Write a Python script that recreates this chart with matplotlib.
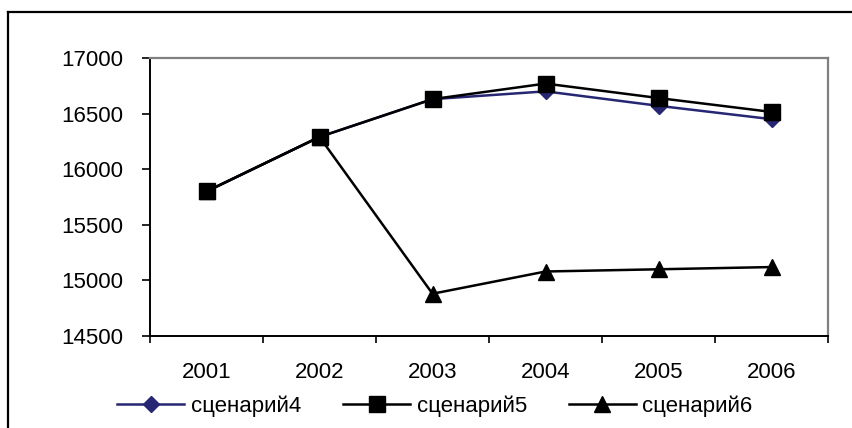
import matplotlib
matplotlib.use("Agg")
import matplotlib.pyplot as plt
from matplotlib.lines import Line2D

years = ["2001", "2002", "2003", "2004", "2005", "2006"]
scenario4 = [15800, 16290, 16630, 16700, 16570, 16450]
scenario5 = [15800, 16290, 16630, 16770, 16640, 16515]
scenario6 = [15800, 16290, 14880, 15080, 15100, 15120]
series_names = ["сценарий4", "сценарий5", "сценарий6"]
yticks = [14500, 15000, 15500, 16000, 16500, 17000]

plt.rcParams['font.family'] = ['Liberation Sans', 'DejaVu Sans']

W, H = 852, 428
fig = plt.figure(figsize=(W / 100, H / 100), dpi=100)
fig.patch.set_facecolor("white")

# outer chart frame (extends past the right/bottom edges)
fig.add_artist(Line2D([8 / W, 8 / W], [0, 1 - 12 / H], transform=fig.transFigure,
                      color="black", lw=1.6))
fig.add_artist(Line2D([8 / W, 1], [1 - 12 / H, 1 - 12 / H], transform=fig.transFigure,
                      color="black", lw=1.6))

left, right, top, bottom = 150, 828, 58, 336
ax = fig.add_axes([left / W, 1 - bottom / H, (right - left) / W, (bottom - top) / H])

x = list(range(len(years)))
navy = "#262673"
ax.plot(x, scenario4, color=navy, lw=1.8, marker="D", ms=8.5, mfc=navy, mec=navy,
        label=series_names[0], zorder=3)
ax.plot(x, scenario6, color="black", lw=1.8, marker="^", ms=11, mfc="black", mec="black",
        label=series_names[2], zorder=4)
ax.plot(x, scenario5, color="black", lw=1.8, marker="s", ms=11, mfc="black", mec="black",
        label=series_names[1], zorder=5)

ax.set_xlim(-0.5, len(years) - 0.5)
ax.set_ylim(14500, 17000)
ax.set_yticks(yticks)
ax.set_yticklabels([str(v) for v in yticks])

ax.set_xticks([i - 0.5 for i in range(len(years) + 1)])
ax.set_xticklabels([""] * (len(years) + 1))
ax.set_xticks(x, minor=True)
ax.set_xticklabels(years, minor=True)

ax.tick_params(axis="y", direction="out", length=6, width=1.2, color="black",
               labelsize=16, pad=13.5)
ax.tick_params(axis="x", which="major", direction="out", length=5, width=1.2, color="black")
ax.tick_params(axis="x", which="minor", length=0, labelsize=16, pad=18.5)

for s in ["left", "bottom"]:
    ax.spines[s].set_color("black")
    ax.spines[s].set_linewidth(1.4)
for s in ["top", "right"]:
    ax.spines[s].set_color("#808080")
    ax.spines[s].set_linewidth(1.6)

handles, labels = ax.get_legend_handles_labels()
order = [labels.index(n) for n in series_names]
leg = fig.legend([handles[i] for i in order], [labels[i] for i in order],
                 loc="center", bbox_to_anchor=(435 / W, 1 - 406 / H), ncol=3,
                 frameon=False, fontsize=16, handlelength=3.0, handletextpad=0.3,
                 columnspacing=1.9, borderpad=0)

fig.savefig("out.png", dpi=100, facecolor="white")
